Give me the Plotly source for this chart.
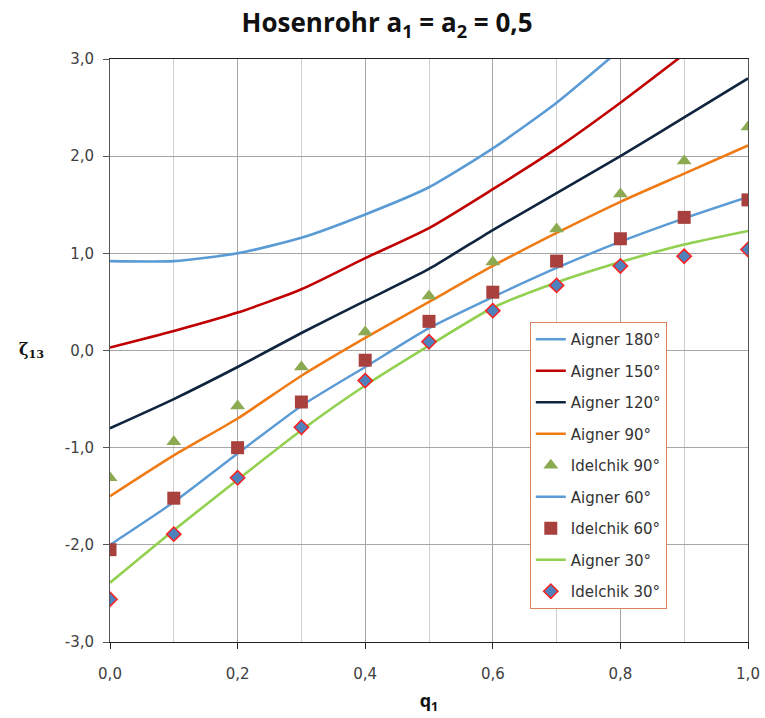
import plotly.graph_objects as go

q1 = [0.0, 0.1, 0.2, 0.3, 0.4, 0.5, 0.6, 0.7, 0.8, 0.9, 1.0]

aigner_180 = [0.92, 0.92, 1.00, 1.16, 1.40, 1.68, 2.08, 2.55, 3.10, None, None]
aigner_150 = [0.03, 0.20, 0.39, 0.63, 0.95, 1.26, 1.66, 2.08, 2.55, 3.05, None]
aigner_120 = [-0.80, -0.50, -0.17, 0.18, 0.51, 0.84, 1.24, 1.62, 2.00, 2.40, 2.80]
aigner_90 = [-1.50, -1.08, -0.70, -0.26, 0.13, 0.50, 0.87, 1.21, 1.53, 1.82, 2.11]
idelchik_90 = [-1.31, -0.94, -0.57, -0.17, 0.19, 0.56, 0.91, 1.25, 1.61, 1.95, 2.30]
aigner_60 = [-2.00, -1.56, -1.06, -0.57, -0.17, 0.23, 0.55, 0.85, 1.12, 1.36, 1.58]
idelchik_60 = [-2.05, -1.52, -1.00, -0.53, -0.10, 0.30, 0.60, 0.92, 1.15, 1.37, 1.55]
aigner_30 = [-2.39, -1.85, -1.33, -0.82, -0.36, 0.05, 0.44, 0.70, 0.91, 1.09, 1.23]
idelchik_30 = [-2.56, -1.89, -1.31, -0.79, -0.31, 0.09, 0.41, 0.67, 0.87, 0.97, 1.04]

x_ticks = [0.0, 0.2, 0.4, 0.6, 0.8, 1.0]
x_tick_labels = ["0,0", "0,2", "0,4", "0,6", "0,8", "1,0"]
y_ticks = [-3, -2, -1, 0, 1, 2, 3]
y_tick_labels = ["-3,0", "-2,0", "-1,0", "0,0", "1,0", "2,0", "3,0"]

fig = go.Figure()

def line(name, y, color, width=2.6):
    fig.add_trace(go.Scatter(x=q1, y=y, mode="lines", name=name, legendgroup=name,
                             line=dict(color=color, width=width, shape="spline", smoothing=0.6),
                             connectgaps=False))

def pts(name, y, symbol, color, size, lcolor=None, lw=0):
    fig.add_trace(go.Scatter(x=q1, y=y, mode="markers", name=name, legendgroup=name,
                             marker=dict(symbol=symbol, color=color, size=size,
                                         line=dict(color=lcolor or color, width=lw))))

line("Aigner 180°", aigner_180, "#5b9bd5")
line("Aigner 150°", aigner_150, "#c00000")
line("Aigner 120°", aigner_120, "#0f243e")
line("Aigner 90°", aigner_90, "#f07a14")
pts("Idelchik 90°", idelchik_90, "triangle-up", "#8caa52", 13)
line("Aigner 60°", aigner_60, "#5b9bd5", 2.4)
pts("Idelchik 60°", idelchik_60, "square", "#a8413e", 13)
line("Aigner 30°", aigner_30, "#92d050")
pts("Idelchik 30°", idelchik_30, "diamond", "#4f81bd", 11, "#ff2020", 1.5)

tick_font = dict(family="DejaVu Sans", size=15, color="#404040")

fig.update_layout(
    width=765, height=718,
    margin=dict(l=110, r=17, t=59, b=76, autoexpand=False),
    paper_bgcolor="white", plot_bgcolor="white",
    title=dict(text="<b>Hosenrohr a<sub>1</sub> = a<sub>2</sub> = 0,5</b>",
               x=0.506, xanchor="center", y=0.968, yanchor="middle",
               font=dict(family="Open Sans, Liberation Sans", size=26, color="#111111")),
    showlegend=True,
    legend=dict(x=0.658, y=0.549, xanchor="left", yanchor="top",
                bgcolor="white", bordercolor="#d9835f", borderwidth=1,
                traceorder="grouped", tracegroupgap=9,
                font=dict(family="DejaVu Sans", size=15, color="#333333")),
    xaxis=dict(range=[0, 1.0], tickvals=x_ticks, ticktext=x_tick_labels,
               showgrid=True, gridcolor="#a6a6a6", gridwidth=1,
               minor=dict(dtick=0.1, showgrid=True, gridcolor="#cfcfcf", gridwidth=1),
               showline=True, linecolor="#222222", linewidth=1, mirror=True,
               ticks="outside", ticklen=6, tickcolor="#222222",
               ticklabelstandoff=12, automargin=False,
               tickfont=tick_font, zeroline=False,
               title=dict(text="<b>q<sub>1</sub></b>", standoff=12,
                          font=dict(family="Open Sans, Liberation Sans", size=18, color="#111111"))),
    yaxis=dict(range=[-3, 3], tickvals=y_ticks, ticktext=y_tick_labels,
               showgrid=True, gridcolor="#a6a6a6", gridwidth=1,
               showline=True, linecolor="#555555", linewidth=1, mirror=True,
               ticks="outside", ticklen=6, tickcolor="#555555",
               ticklabelstandoff=6, automargin=False,
               tickfont=tick_font, zeroline=False),
)

fig.add_annotation(text="<b>ζ<sub>13</sub></b>", xref="paper", yref="paper",
                   x=-0.1, y=0.5, xanchor="right", yanchor="middle", showarrow=False,
                   font=dict(family="DejaVu Serif", size=16, color="#111111"))

fig.write_html("out.html")
